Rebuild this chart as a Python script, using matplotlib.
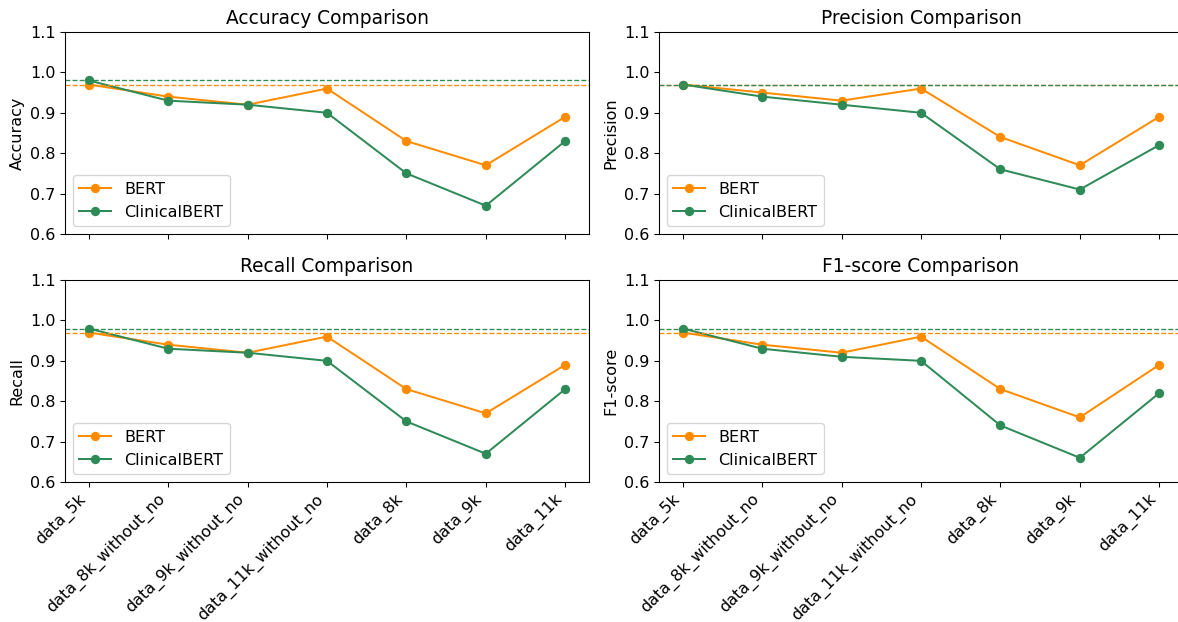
import matplotlib
matplotlib.use("Agg")
import matplotlib.pyplot as plt

datasets = ["data_5k", "data_8k_without_no", "data_9k_without_no",
            "data_11k_without_no", "data_8k", "data_9k", "data_11k"]
metrics = ["Accuracy", "Precision", "Recall", "F1-score"]

bert_accuracy = [0.97, 0.94, 0.92, 0.96, 0.83, 0.77, 0.89]
clin_accuracy = [0.98, 0.93, 0.92, 0.90, 0.75, 0.67, 0.83]
bert_precision = [0.97, 0.95, 0.93, 0.96, 0.84, 0.77, 0.89]
clin_precision = [0.97, 0.94, 0.92, 0.90, 0.76, 0.71, 0.82]
bert_recall = [0.97, 0.94, 0.92, 0.96, 0.83, 0.77, 0.89]
clin_recall = [0.98, 0.93, 0.92, 0.90, 0.75, 0.67, 0.83]
bert_f1 = [0.97, 0.94, 0.92, 0.96, 0.83, 0.76, 0.89]
clin_f1 = [0.98, 0.93, 0.91, 0.90, 0.74, 0.66, 0.82]

y_ticks = [0.6, 0.7, 0.8, 0.9, 1.0, 1.1]

bert_vals = [bert_accuracy, bert_precision, bert_recall, bert_f1]
clin_vals = [clin_accuracy, clin_precision, clin_recall, clin_f1]

BERT_C = "darkorange"
CLIN_C = "seagreen"

DPI = 96
plt.rcParams["font.size"] = 12
fig, axes = plt.subplots(2, 2, figsize=(1178 / DPI, 622 / DPI), dpi=DPI, sharex=True)
W, H = 1178, 622
fig.subplots_adjust(left=65 / W, right=1183 / W, top=1 - 32 / H, bottom=1 - 482 / H,
                    wspace=70 / 524, hspace=46 / 201.5)
for ax, m, b, c in zip(axes.flat, metrics, bert_vals, clin_vals):
    ax.plot(datasets, b, marker="o", color=BERT_C, label="BERT")
    ax.plot(datasets, c, marker="o", color=CLIN_C, label="ClinicalBERT")
    ax.axhline(b[0], color=BERT_C, linestyle="--", linewidth=1)
    ax.axhline(c[0], color=CLIN_C, linestyle="--", linewidth=1)
    ax.set_title(f"{m} Comparison", fontsize=14)
    ax.set_ylabel(m)
    ax.set_ylim(0.6, 1.1)
    ax.set_yticks(y_ticks)
    ax.legend(loc="lower left")
for ax in axes[1]:
    ax.tick_params(axis="x", labelrotation=45)
    for lbl in ax.get_xticklabels():
        lbl.set_ha("right")
fig.savefig("out.png", dpi=DPI)
